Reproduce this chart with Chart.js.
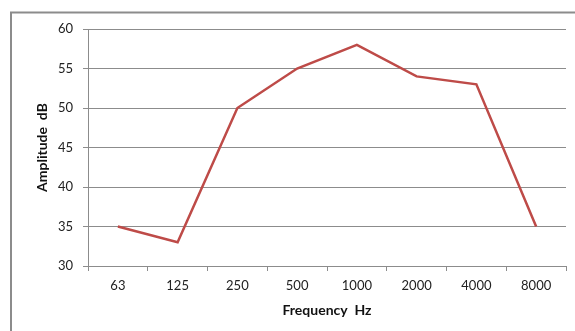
<!DOCTYPE html>
<html><head><meta charset="utf-8">
<script src="https://cdn.jsdelivr.net/npm/chart.js@4"></script>
<style>html,body{margin:0;padding:0;background:#fff;}#wrap{width:575px;height:331px;}</style>
</head><body><div id="wrap"><canvas id="c" width="575" height="331"></canvas></div>
<script>
const categories = ["63","125","250","500","1000","2000","4000","8000"];
const amplitude = [35, 33, 50, 55, 58, 54, 53, 35];
const yTicks = [30, 35, 40, 45, 50, 55, 60];

const frame = {
  id: 'frame',
  beforeDraw(chart) {
    const ctx = chart.ctx;
    ctx.save();
    ctx.strokeStyle = '#8c8c8c';
    ctx.lineWidth = 2;
    ctx.beginPath();
    ctx.moveTo(11, 331);
    ctx.lineTo(11, 12.5);
    ctx.lineTo(575, 12.5);
    ctx.stroke();
    ctx.restore();
  }
};

new Chart(document.getElementById('c'), {
  type: 'line',
  data: {
    labels: categories,
    datasets: [{
      data: amplitude,
      borderColor: '#BE4B48',
      borderWidth: 2.5,
      pointRadius: 0,
      tension: 0,
      fill: false
    }]
  },
  options: {
    responsive: false,
    animation: false,
    devicePixelRatio: 1,
    layout: { padding: { left: 34, top: 29, right: 9, bottom: 12 } },
    plugins: { legend: { display: false }, tooltip: { enabled: false } },
    scales: {
      x: {
        offset: true,
        grid: { offset: true, drawOnChartArea: false, tickLength: 5, color: '#8c8c8c' },
        border: { color: '#8c8c8c', width: 1 },
        ticks: { color: '#222', font: { family: 'Lato', size: 13 }, padding: 7, maxRotation: 0 },
        title: { display: true, text: 'Frequency  Hz', color: '#111', font: { family: 'Lato', size: 14, weight: 'bold' }, padding: { top: 2, bottom: 0 } },
        afterFit(s) { s.height = 53; }
      },
      y: {
        min: 30, max: 60,
        afterBuildTicks(s) { s.ticks = yTicks.map(v => ({ value: v })); },
        grid: { color: '#8c8c8c', tickLength: 5 },
        border: { color: '#8c8c8c', width: 1 },
        ticks: { color: '#222', font: { family: 'Lato', size: 13 }, padding: 10 },
        title: { display: true, text: 'Amplitude  dB', color: '#111', font: { family: 'Lato', size: 14, weight: 'bold' }, padding: 0 },
        afterFit(s) { s.width = 54; }
      }
    }
  },
  plugins: [frame]
});
</script></body></html>
